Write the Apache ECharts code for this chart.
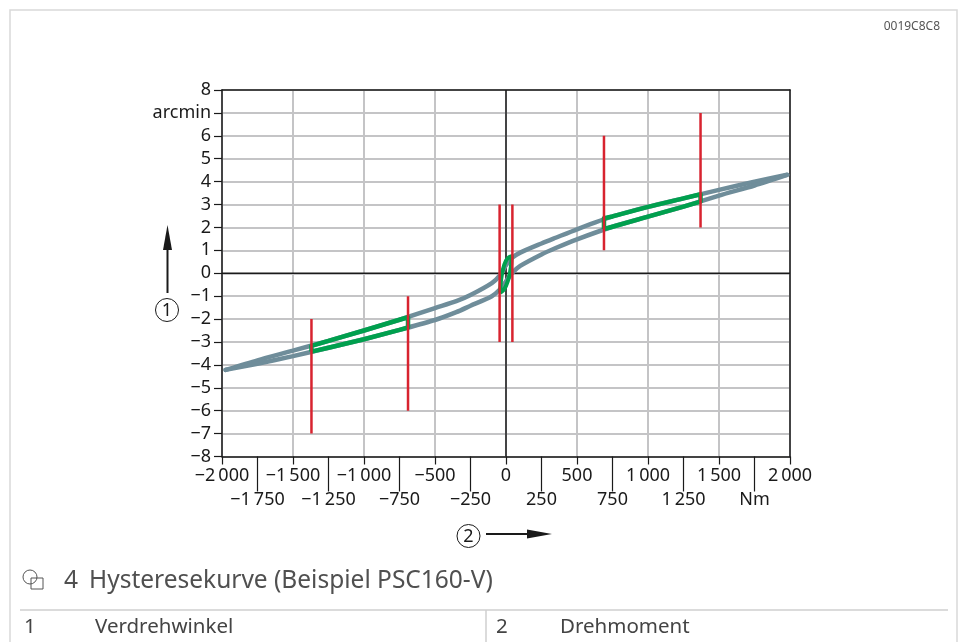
<!DOCTYPE html>
<html><head><meta charset="utf-8">
<script src="https://cdn.jsdelivr.net/npm/echarts@6/dist/echarts.min.js"></script>
<style>html,body{margin:0;padding:0;background:#fff}#c{width:962px;height:642px}</style>
</head><body><div id="c"></div>
<script>
// Torque (Nm) sample positions for the two hysteresis branches
const branchX = [-1975,-1750,-1500,-1250,-1000,-750,-500,-350,-250,-100,-45,0,45,100,250,350,500,750,1000,1250,1500,1750,1980];
const upperY  = [-4.22,-3.8,-3.38,-2.95,-2.5,-2.03,-1.52,-1.22,-0.95,-0.43,-0.1,0.35,0.68,0.9,1.3,1.55,1.92,2.48,2.9,3.27,3.64,4.0,4.3];
const lowerY  = [-4.22,-3.95,-3.62,-3.25,-2.88,-2.47,-2.04,-1.7,-1.42,-1.0,-0.72,-0.35,0.02,0.32,0.82,1.1,1.48,2.03,2.47,2.91,3.39,3.83,4.29];

// Green highlighted partial loops
const greenLeftX = [-1370,-1250,-1000,-750,-690];
const greenLeftUpper = [-3.17,-2.95,-2.5,-2.03,-1.92];
const greenLeftLower = [-3.42,-3.25,-2.88,-2.47,-2.37];
const greenRightX = [690,750,1000,1250,1370];
const greenRightUpper = [2.40,2.48,2.9,3.27,3.45];
const greenRightLower = [1.93,2.03,2.47,2.91,3.13];
const greenCenterX = [-42,-35,-20,0,20,40,35,20,0,-20,-42];
const greenCenterY = [-0.85,-0.3,0.2,0.55,0.7,0.75,0.3,-0.2,-0.55,-0.75,-0.85];

// Red vertical markers
const redX    = [-1370,-690,-45,45,690,1370];
const redFrom = [-7,-6,-3,-3,1,2];
const redTo   = [-2,-1,3,3,6,7];

// Tick labels
const xRow1Values = [-2000,-1500,-1000,-500,0,500,1000,1500,2000];
const xRow1Labels = ['\u22122\u2009000','\u22121\u2009500','\u22121\u2009000','\u2212500','0','500','1\u2009000','1\u2009500','2\u2009000'];
const xRow2Values = [-1750,-1250,-750,-250,250,750,1250,1750];
const xRow2Labels = ['\u22121\u2009750','\u22121\u2009250','\u2212750','\u2212250','250','750','1\u2009250','Nm'];
const yValues = [-8,-7,-6,-5,-4,-3,-2,-1,0,1,2,3,4,5,6,7,8];
const yLabels = ['\u22128','\u22127','\u22126','\u22125','\u22124','\u22123','\u22122','\u22121','0','1','2','3','4','5','6','arcmin','8'];

const zip = (xs, ys) => xs.map((x,i)=>[x, ys[i]]);
const loop = (xs, up, lo) => zip(xs, lo).concat(zip(xs, up).reverse()).concat([[xs[0], lo[0]]]);

const FONT = 'Noto Sans';
const GRAY = '#6f8d9a', GREEN = '#00a04e', RED = '#d8232f';
const lbl = {color:'#1a1a1a', fontSize:18, fontFamily:FONT};

const series = [
  {type:'line', data:[[-2000,0],[2000,0]], symbol:'none', lineStyle:{color:'#1a1a1a', width:1.5}, silent:true, z:1},
  {type:'line', data:[[0,-8],[0,8]], symbol:'none', lineStyle:{color:'#1a1a1a', width:1.5}, silent:true, z:1},
  {type:'line', data:zip(branchX, upperY), symbol:'none', smooth:0.25, lineStyle:{color:GRAY, width:4.5, cap:'round'}, z:2},
  {type:'line', data:zip(branchX, lowerY), symbol:'none', smooth:0.25, lineStyle:{color:GRAY, width:4.5, cap:'round'}, z:2},
  {type:'line', data:loop(greenLeftX, greenLeftUpper, greenLeftLower), symbol:'none', lineStyle:{color:GREEN, width:4.5, join:'round'}, z:3},
  {type:'line', data:loop(greenRightX, greenRightUpper, greenRightLower), symbol:'none', lineStyle:{color:GREEN, width:4.5, join:'round'}, z:3},
  {type:'line', data:zip(greenCenterX, greenCenterY), symbol:'none', smooth:0.3, lineStyle:{color:GREEN, width:4, join:'round'}, z:3}
];
redX.forEach((x,i)=>{
  series.push({type:'line', data:[[x,redFrom[i]],[x,redTo[i]]], symbol:'none', lineStyle:{color:RED, width:2.5}, z:4});
});

const chart = echarts.init(document.getElementById('c'), null, {renderer:'canvas'});
chart.setOption({
  animation:false,
  backgroundColor:'#fff',
  grid:{left:222, right:172, top:90, bottom:185.5, show:false},
  xAxis:[
    {type:'value', min:-2000, max:2000, interval:250, position:'bottom',
     axisLine:{show:true, onZero:false, lineStyle:{color:'#1a1a1a', width:1.5}},
     axisTick:{show:true, customValues:xRow1Values, length:8, lineStyle:{color:'#1a1a1a', width:1.2}},
     axisLabel:{customValues:xRow1Values, margin:10, ...lbl, formatter:v=>xRow1Labels[xRow1Values.indexOf(v)] ?? ''},
     splitLine:{show:true, lineStyle:{color:'#c4c4c6', width:2}}},
    {type:'value', min:-2000, max:2000, interval:250, position:'bottom',
     axisLine:{show:false, onZero:false},
     axisTick:{show:true, customValues:xRow2Values, length:35, lineStyle:{color:'#1a1a1a', width:1.2}},
     axisLabel:{customValues:xRow2Values, margin:34, ...lbl, formatter:v=>xRow2Labels[xRow2Values.indexOf(v)] ?? ''},
     splitLine:{show:false}},
    {type:'value', min:-2000, max:2000, position:'top',
     axisLine:{show:true, onZero:false, lineStyle:{color:'#1a1a1a', width:1.5}},
     axisTick:{show:false}, axisLabel:{show:false}, splitLine:{show:false}}
  ],
  yAxis:[
    {type:'value', min:-8, max:8, interval:1, position:'left',
     axisLine:{show:true, onZero:false, lineStyle:{color:'#1a1a1a', width:1.5}},
     axisTick:{show:true, length:8, lineStyle:{color:'#1a1a1a', width:1.2}},
     axisLabel:{margin:11, ...lbl, formatter:v=>yLabels[yValues.indexOf(v)] ?? ''},
     splitLine:{show:true, lineStyle:{color:'#c4c4c6', width:2}}},
    {type:'value', min:-8, max:8, position:'right',
     axisLine:{show:true, onZero:false, lineStyle:{color:'#1a1a1a', width:1.5}},
     axisTick:{show:false}, axisLabel:{show:false}, splitLine:{show:false}}
  ],
  series: series,
  graphic:[
    {type:'rect', shape:{x:10, y:10, width:947, height:660}, style:{fill:'none', stroke:'#d9d9d9', lineWidth:1.5}, silent:true},
    {type:'text', style:{text:'0019C8C8', x:940, y:27, align:'right', verticalAlign:'middle', fontSize:12, fontFamily:FONT, fill:'#555'}},
    // y-axis indicator
    {type:'line', shape:{x1:167.5, y1:248, x2:167.5, y2:293}, style:{stroke:'#1a1a1a', lineWidth:2}},
    {type:'polygon', shape:{points:[[163,250],[172,250],[167.5,225]]}, style:{fill:'#1a1a1a'}},
    {type:'circle', shape:{cx:167, cy:310, r:11.5}, style:{fill:'none', stroke:'#1a1a1a', lineWidth:1}},
    {type:'text', style:{text:'1', x:167, y:311, align:'center', verticalAlign:'middle', fontSize:18, fontFamily:FONT, fill:'#1a1a1a'}},
    // x-axis indicator
    {type:'circle', shape:{cx:468.5, cy:536, r:11.5}, style:{fill:'none', stroke:'#1a1a1a', lineWidth:1}},
    {type:'text', style:{text:'2', x:468.5, y:537, align:'center', verticalAlign:'middle', fontSize:18, fontFamily:FONT, fill:'#1a1a1a'}},
    {type:'line', shape:{x1:486, y1:534, x2:530, y2:534}, style:{stroke:'#1a1a1a', lineWidth:2}},
    {type:'polygon', shape:{points:[[527,529.5],[527,538.5],[552,534]]}, style:{fill:'#1a1a1a'}},
    // caption
    {type:'circle', shape:{cx:30, cy:577, r:7}, style:{fill:'none', stroke:'#555', lineWidth:1}},
    {type:'rect', shape:{x:31, y:578, width:12, height:11}, style:{fill:'none', stroke:'#555', lineWidth:1}},
    {type:'text', style:{text:'4', x:64, y:581, verticalAlign:'middle', fontSize:24.5, fontFamily:FONT, fill:'#505050'}},
    {type:'text', style:{text:'Hysteresekurve (Beispiel PSC160-V)', x:89, y:581, verticalAlign:'middle', fontSize:24.5, fontFamily:FONT, fill:'#505050'}},
    // table
    {type:'line', shape:{x1:20, y1:610, x2:948, y2:610}, style:{stroke:'#cfcfcf', lineWidth:1.5}},
    {type:'line', shape:{x1:486, y1:610, x2:486, y2:642}, style:{stroke:'#cfcfcf', lineWidth:1.5}},
    {type:'text', style:{text:'1', x:24, y:627, verticalAlign:'middle', fontSize:20.5, fontFamily:FONT, fill:'#444'}},
    {type:'text', style:{text:'Verdrehwinkel', x:95, y:627, verticalAlign:'middle', fontSize:20.5, fontFamily:FONT, fill:'#444'}},
    {type:'text', style:{text:'2', x:496, y:627, verticalAlign:'middle', fontSize:20.5, fontFamily:FONT, fill:'#444'}},
    {type:'text', style:{text:'Drehmoment', x:560, y:627, verticalAlign:'middle', fontSize:20.5, fontFamily:FONT, fill:'#444'}}
  ]
});
</script></body></html>
